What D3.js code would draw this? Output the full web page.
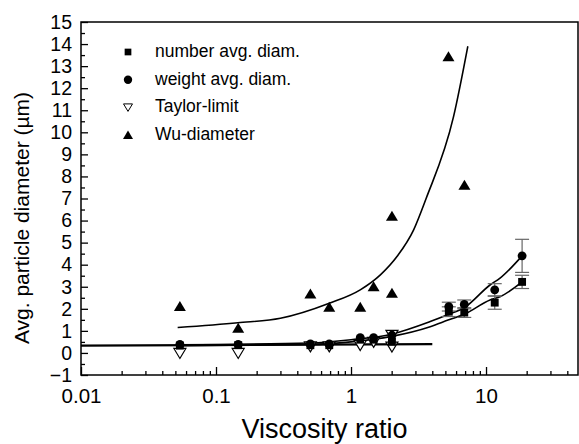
<!DOCTYPE html>
<html>
<head>
<meta charset="utf-8">
<script src="https://cdn.jsdelivr.net/npm/d3@7"></script>
<style>
  body { margin: 0; background: #fff; }
  svg { display: block; font-family: "Liberation Sans", Arial, sans-serif; }
</style>
</head>
<body>
<svg width="579" height="444"></svg>
<script>
// data
const visc = [0.054, 0.146, 0.50, 0.69, 1.17, 1.47, 2.01, 5.3, 6.9, 11.6, 18.5];
const numberAvg = [0.33, 0.35, 0.35, 0.35, 0.6, 0.6, 0.5, 1.87, 1.83, 2.28, 3.22];
const numberErr = [0, 0, 0, 0, 0, 0, 0, 0.22, 0.22, 0.3, 0.3];
const weightAvg = [0.39, 0.39, 0.41, 0.41, 0.69, 0.69, 0.8, 2.1, 2.2, 2.86, 4.4];
const weightErr = [0, 0, 0, 0, 0, 0, 0, 0.2, 0.2, 0.28, 0.75];

const taylorX = [0.054, 0.146, 0.5, 0.69, 1.17, 1.47, 2.01, 2.01];
const taylorY = [0.0, 0.0, 0.3, 0.3, 0.36, 0.5, 0.82, 0.29];

const wuX = [0.054, 0.146, 0.5, 0.69, 1.17, 1.47, 2.01, 2.01, 5.27, 6.92];
const wuY = [2.1, 1.12, 2.67, 2.07, 2.07, 3.0, 6.2, 2.7, 13.43, 7.6];

// fitted curves
const wuFitX = [0.052, 0.145, 0.3, 0.69, 1.17, 1.65, 2.19, 2.91, 3.6, 5.74, 7.33];
const wuFitY = [1.15, 1.37, 1.57, 2.25, 2.86, 3.54, 4.37, 5.58, 7.0, 10.7, 13.9];
const weightFitX = [0.054, 0.5, 1, 2, 3.86, 5.3, 6.9, 10.7, 12.7, 18.5];
const weightFitY = [0.37, 0.45, 0.6, 0.85, 1.42, 1.75, 2.05, 3.08, 3.39, 4.4];
const numberFitX = [0.054, 0.5, 1, 2, 3.86, 5.3, 6.9, 10.7, 12.7, 18.5];
const numberFitY = [0.33, 0.38, 0.5, 0.75, 1.19, 1.5, 1.75, 2.4, 2.55, 3.22];
const flatFitX = [0.01, 4.0];
const flatFitY = [0.33, 0.4];

const yTicks = d3.range(-1, 16);
const yMinor = d3.range(-0.5, 15, 1);
const xTicks = [0.01, 0.1, 1, 10];
const xMinor = [0.01, 0.1, 1, 10].flatMap(d => d3.range(2, 10).map(k => k * d)).filter(v => v < 48);

const legendLabels = ['number avg. diam.', 'weight avg. diam.', 'Taylor-limit', 'Wu-diameter'];

const svg = d3.select('svg');
const plotL = 81, plotR = 578, plotT = 22, plotB = 375;

const x = d3.scaleLog().domain([0.01, 48]).range([plotL, plotR]);
const y = d3.scaleLinear().domain([-1, 15]).range([plotB, plotT]);

// axes (ticks point inward)
const yAxis = svg.append('g').attr('transform', `translate(${plotL},0)`)
  .call(d3.axisLeft(y).tickValues(yTicks).tickSize(-7).tickPadding(9).tickFormat(d3.format('d')));
const yAxisMinor = svg.append('g').attr('transform', `translate(${plotL},0)`)
  .call(d3.axisLeft(y).tickValues(yMinor).tickSize(-4).tickFormat(''));
const xAxis = svg.append('g').attr('transform', `translate(0,${plotB})`)
  .call(d3.axisBottom(x).tickValues(xTicks).tickSize(-8).tickPadding(10).tickFormat(d => d3.format('~g')(d)));
const xAxisMinor = svg.append('g').attr('transform', `translate(0,${plotB})`)
  .call(d3.axisBottom(x).tickValues(xMinor).tickSize(-4).tickFormat(''));

[yAxis, yAxisMinor, xAxis, xAxisMinor].forEach(g => {
  g.select('.domain').remove();
  g.selectAll('line').attr('stroke', '#000').attr('stroke-width', 1.3);
  g.selectAll('text').attr('fill', '#000')
    .style('font-family', '"Liberation Sans", Arial, sans-serif');
});
yAxis.selectAll('text').style('font-size', '19.5px');
xAxis.selectAll('text').style('font-size', '20.5px').attr('dy', '0.9em');

// frame
svg.append('rect')
  .attr('x', plotL).attr('y', plotT)
  .attr('width', plotR - plotL).attr('height', plotB - plotT)
  .attr('fill', 'none').attr('stroke', '#000').attr('stroke-width', 1.5);

// axis titles
svg.append('text')
  .attr('x', (plotL + plotR) / 2 - 5).attr('y', 438)
  .attr('text-anchor', 'middle')
  .style('font-size', '27px')
  .text('Viscosity ratio');

svg.append('text')
  .attr('transform', 'translate(29,218) rotate(-90)')
  .attr('text-anchor', 'middle')
  .style('font-size', '21px')
  .text('Avg. particle diameter (µm)');

// fit lines
const line = d3.line().x(d => x(d[0])).y(d => y(d[1])).curve(d3.curveMonotoneX);
const fits = [
  [wuFitX, wuFitY, 1.6],
  [weightFitX, weightFitY, 1.6],
  [numberFitX, numberFitY, 1.6],
  [flatFitX, flatFitY, 2.2]
];
fits.forEach(([xs, ys, w]) => {
  svg.append('path')
    .datum(d3.zip(xs, ys))
    .attr('d', line)
    .attr('fill', 'none')
    .attr('stroke', '#000')
    .attr('stroke-width', w);
});

// error bars
function errorBars(vals, errs) {
  const g = svg.append('g');
  visc.forEach((v, i) => {
    if (!errs[i]) return;
    const cx = x(v), y0 = y(vals[i] - errs[i]), y1 = y(vals[i] + errs[i]);
    g.append('line').attr('x1', cx).attr('x2', cx).attr('y1', y0).attr('y2', y1);
    g.append('line').attr('x1', cx - 7).attr('x2', cx + 7).attr('y1', y0).attr('y2', y0);
    g.append('line').attr('x1', cx - 7).attr('x2', cx + 7).attr('y1', y1).attr('y2', y1);
  });
  g.selectAll('line').attr('stroke', '#666').attr('stroke-width', 1.2);
}
errorBars(weightAvg, weightErr);
errorBars(numberAvg, numberErr);

// markers
const sqr = d3.symbol().type(d3.symbolSquare).size(62);
const circ = d3.symbol().type(d3.symbolCircle).size(62);
const triUp = 'M0,-5.5L6,4.5L-6,4.5Z';
const triDown = 'M0,5.5L6,-4.5L-6,-4.5Z';

svg.append('g').selectAll('path')
  .data(d3.zip(taylorX, taylorY)).join('path')
  .attr('d', triDown)
  .attr('transform', d => `translate(${x(d[0])},${y(d[1])})`)
  .attr('fill', '#fff').attr('stroke', '#000').attr('stroke-width', 1.2);

svg.append('g').selectAll('path')
  .data(d3.zip(visc, numberAvg)).join('path')
  .attr('d', sqr)
  .attr('transform', d => `translate(${x(d[0])},${y(d[1])})`)
  .attr('fill', '#000');

svg.append('g').selectAll('path')
  .data(d3.zip(visc, weightAvg)).join('path')
  .attr('d', circ)
  .attr('transform', d => `translate(${x(d[0])},${y(d[1])})`)
  .attr('fill', '#000');

svg.append('g').selectAll('path')
  .data(d3.zip(wuX, wuY)).join('path')
  .attr('d', triUp)
  .attr('transform', d => `translate(${x(d[0])},${y(d[1])})`)
  .attr('fill', '#000');

// legend
const legendShapes = [
  d3.symbol().type(d3.symbolSquare).size(45)(),
  d3.symbol().type(d3.symbolCircle).size(55)(),
  'M0,4L4.5,-3.5L-4.5,-3.5Z',
  'M0,-4.5L5,4L-5,4Z'
];
const legend = svg.append('g');
legendLabels.forEach((lab, i) => {
  const ly = 52 + i * 27.7;
  legend.append('path')
    .attr('d', legendShapes[i])
    .attr('transform', `translate(128,${ly})`)
    .attr('fill', i === 2 ? '#fff' : '#000')
    .attr('stroke', i === 2 ? '#000' : 'none')
    .attr('stroke-width', 1);
  legend.append('text')
    .attr('x', 155).attr('y', ly + 5)
    .style('font-size', '17.5px')
    .text(lab);
});
</script>
</body>
</html>
